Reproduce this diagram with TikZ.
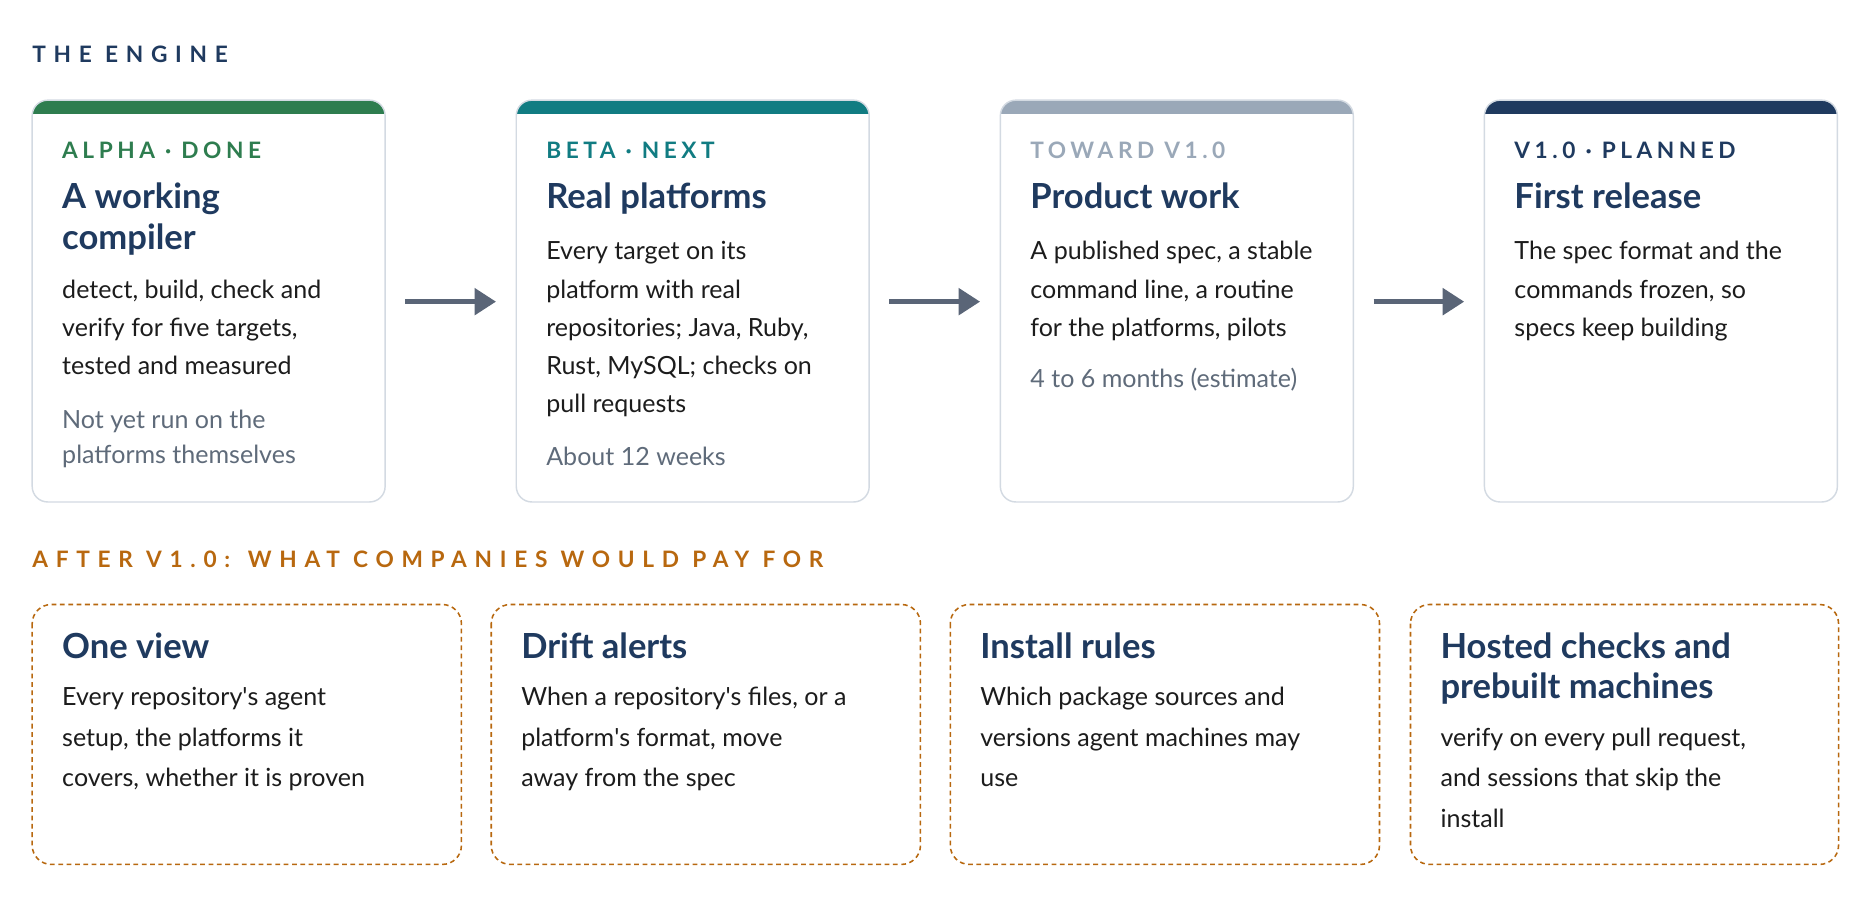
\documentclass[tikz,border=0pt]{standalone}
\usepackage{fontspec}
\setmainfont{Lato}
\newfontfamily\spacedfont[LetterSpace=20]{Lato}
\newfontfamily\widefont[LetterSpace=34]{Lato}
\usetikzlibrary{arrows.meta}
\definecolor{navy}{HTML}{1F3A5F}
\definecolor{cgreen}{HTML}{2E7D4F}
\definecolor{cteal}{HTML}{117C82}
\definecolor{cgray}{HTML}{9AA8B8}
\definecolor{muted}{HTML}{5F6B7A}
\definecolor{bord}{HTML}{D3DAE2}
\definecolor{ochre}{HTML}{B8680F}
\definecolor{bodyc}{HTML}{1C1C1C}
\definecolor{arr}{HTML}{5A6577}
\newcommand{\ap}{\textquotesingle}
\begin{document}
\begin{tikzpicture}[x=1pt,y=-1pt,
  lab/.style={anchor=base west,inner sep=0,font=\fontsize{19}{20}\spacedfont\bfseries},
  sec/.style={anchor=base west,inner sep=0,font=\fontsize{19}{20}\widefont\bfseries},
  head/.style={anchor=base west,inner sep=0,text=navy,font=\fontsize{29}{34}\selectfont\bfseries},
  body/.style={anchor=base west,inner sep=0,text=bodyc,font=\fontsize{21}{32}\selectfont},
  bodyb/.style={anchor=base west,inner sep=0,text=bodyc,font=\fontsize{21}{34}\selectfont},
  mut/.style={anchor=base west,inner sep=0,text=muted,font=\fontsize{21}{30}\selectfont},
  card/.style={draw=bord,line width=1.2pt,rounded corners=13pt},
  dcard/.style={draw=ochre,line width=1.3pt,dash pattern=on 4pt off 3pt,rounded corners=16pt},
  flow/.style={draw=arr,line width=4pt,-{Triangle[length=18pt,width=22pt]}}]
\useasboundingbox[fill=white] (0,0) rectangle (1560,755);
\node[sec,text=navy] (t1) at (27,52) {THE ENGINE};
\foreach \x/\c/\n in {27/cgreen/a,433/cteal/b,839/cgray/c,1245/navy/d}{
  \begin{scope}
   \clip[rounded corners=13pt] (\x,84) rectangle ++(296,337);
   \fill[\c] (\x,84) rectangle ++(296,12);
  \end{scope}
  \draw[card] (\x,84) rectangle ++(296,337);
  \coordinate (box\n w) at (\x,253);
  \coordinate (box\n e) at (\x+296,253);
}
% card 1
\node[lab,text=cgreen] (l1) at (52,133) {ALPHA · DONE};
\node[head] (h1) at (52,175) {\parbox[t]{260pt}{A working\\compiler}};
\node[body] (b1) at (52,250) {\parbox[t]{265pt}{detect, build, check and\\verify for five targets,\\tested and measured}};
\node[mut] (m1) at (52,359) {\parbox[t]{265pt}{Not yet run on the\\platforms themselves}};
% card 2
\node[lab,text=cteal] (l2) at (458,133) {BETA · NEXT};
\node[head] (h2) at (458,175) {Real platforms};
\node[body] (b2) at (458,218) {\parbox[t]{265pt}{Every target on its\\platform with real\\repositories; Java, Ruby,\\Rust, MySQL; checks on\\pull requests}};
\node[mut] (m2) at (458,390) {About 12 weeks};
% card 3
\node[lab,text=cgray] (l3) at (864,133) {TOWARD V1.0};
\node[head] (h3) at (864,175) {Product work};
\node[body] (b3) at (864,218) {\parbox[t]{265pt}{A published spec, a stable\\command line, a routine\\for the platforms, pilots}};
\node[mut] (m3) at (864,325) {4 to 6 months (estimate)};
% card 4
\node[lab,text=navy] (l4) at (1270,133) {V1.0 · PLANNED};
\node[head] (h4) at (1270,175) {First release};
\node[body] (b4) at (1270,218) {\parbox[t]{265pt}{The spec format and the\\commands frozen, so\\specs keep building}};
% arrows
\draw[flow] ([xshift=17pt]boxae) -- ([xshift=-17pt]boxbw);
\draw[flow] ([xshift=17pt]boxbe) -- ([xshift=-17pt]boxcw);
\draw[flow] ([xshift=17pt]boxce) -- ([xshift=-17pt]boxdw);
% section 2
\node[sec,text=ochre] (t2) at (27,476) {AFTER V1.0: WHAT COMPANIES WOULD PAY FOR};
\draw[dcard] (27,507) rectangle (387,725);
\draw[dcard] (412,507) rectangle (772,725);
\draw[dcard] (797,507) rectangle (1157,725);
\draw[dcard] (1183,507) rectangle (1542,725);
\node[head] (h5) at (52,552) {One view};
\node[bodyb] (b5) at (52,592) {\parbox[t]{320pt}{Every repository\ap s agent\\setup, the platforms it\\covers, whether it is proven}};
\node[head] (h6) at (437,552) {Drift alerts};
\node[bodyb] (b6) at (437,592) {\parbox[t]{320pt}{When a repository\ap s files, or a\\platform\ap s format, move\\away from the spec}};
\node[head] (h7) at (822,552) {Install rules};
\node[bodyb] (b7) at (822,592) {\parbox[t]{320pt}{Which package sources and\\versions agent machines may\\use}};
\node[head] (h8) at (1208,552) {\parbox[t]{320pt}{Hosted checks and\\prebuilt machines}};
\node[bodyb] (b8) at (1208,626) {\parbox[t]{320pt}{verify on every pull request,\\and sessions that skip the\\install}};
\end{tikzpicture}
\end{document}
